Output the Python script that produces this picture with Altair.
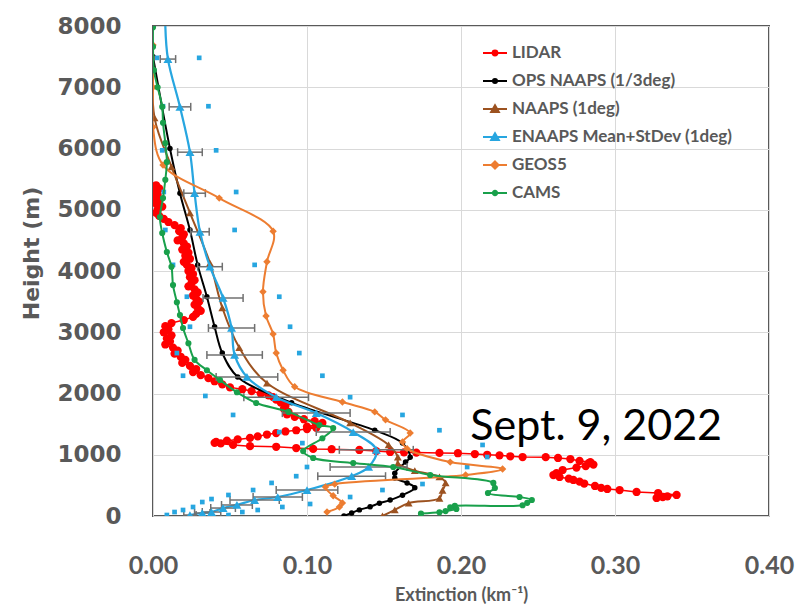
import altair as alt
import pandas as pd

# ---------------- data ----------------
lidar_h = [5400, 5350, 5300, 5250, 5200, 5150, 5100, 5050, 5000, 4950, 4900, 4850, 4800, 4750, 4700,
           4650, 4600, 4550, 4500, 4450, 4400, 4350, 4300, 4250, 4200, 4150, 4100, 4050, 4000, 3950,
           3900, 3850, 3800, 3750, 3700, 3650, 3600, 3550, 3500, 3450, 3400, 3350, 3300, 3250, 3200,
           3150, 3100, 3050, 3000, 2950, 2900, 2850, 2800, 2750, 2700, 2650, 2600, 2550, 2500, 2450,
           2400, 2350, 2300, 2250, 2200, 2150, 2100, 2070, 2040, 2000, 1970, 1940, 1900, 1850, 1800,
           1750, 1700, 1660, 1620, 1580, 1550, 1520, 1490, 1460, 1440, 1420, 1400, 1380, 1355, 1330,
           1300, 1275, 1250, 1230, 1210, 1195, 1185, 1160, 1140, 1130, 1110, 1095, 1090, 1078, 1060,
           1045, 1040, 1035, 1030, 1025, 1012, 1000, 990, 975, 963, 960, 947, 930, 898, 880,
           865, 840, 816, 790, 751, 700, 669, 637, 610, 588, 560, 530, 490, 460, 441,
           424, 392, 375, 343, 320, 310, 294]
lidar_x = [0.002, 0.004, 0.001, 0.003, 0.001, 0.004, 0.002, 0.006, 0.003, 0.002, 0.004, 0.007, 0.010, 0.014, 0.018,
           0.017, 0.020, 0.019, 0.016, 0.020, 0.022, 0.019, 0.023, 0.021, 0.024, 0.020, 0.022, 0.025, 0.023, 0.026,
           0.024, 0.027, 0.025, 0.023, 0.027, 0.029, 0.026, 0.028, 0.030, 0.027, 0.029, 0.031, 0.028, 0.026, 0.020,
           0.012, 0.008, 0.010, 0.007, 0.012, 0.009, 0.011, 0.008, 0.013, 0.016, 0.014, 0.018, 0.021, 0.019, 0.024,
           0.028, 0.026, 0.031, 0.036, 0.040, 0.045, 0.050, 0.058, 0.064, 0.070, 0.075, 0.078, 0.080, 0.083, 0.086,
           0.085, 0.088, 0.087, 0.092, 0.098, 0.105, 0.110, 0.106, 0.100, 0.106, 0.100, 0.093, 0.086, 0.080, 0.074,
           0.068, 0.063, 0.055, 0.048, 0.041, 0.040, 0.044, 0.052, 0.063, 0.080, 0.093, 0.104, 0.116, 0.134, 0.145,
           0.154, 0.163, 0.171, 0.186, 0.198, 0.209, 0.217, 0.225, 0.232, 0.240, 0.255, 0.263, 0.271, 0.277, 0.284,
           0.283, 0.286, 0.281, 0.275, 0.266, 0.262, 0.260, 0.264, 0.270, 0.273, 0.277, 0.280, 0.287, 0.291, 0.295,
           0.303, 0.314, 0.328, 0.340, 0.334, 0.331, 0.327]

ops_h = [7500, 6000, 5270, 4670, 4100, 3580, 3090, 2660, 2270, 1850, 1400, 1190, 960, 880, 700,
         620, 540, 460, 340, 260, 210, 150, 100, 50, 0]
ops_x = [0.000, 0.011, 0.0175, 0.024, 0.029, 0.035, 0.040, 0.045, 0.055, 0.090, 0.144, 0.162, 0.167, 0.164, 0.157,
         0.157, 0.165, 0.170, 0.162, 0.154, 0.147, 0.141, 0.134, 0.129, 0.124]

naaps_h = [7500, 6500, 5700, 4950, 4130, 3400, 2750, 2170, 1520, 1160, 960, 860, 740, 640, 540,
           420, 290, 210, 100, 0]
naaps_x = [0.000, 0.001, 0.012, 0.024, 0.037, 0.045, 0.056, 0.074, 0.128, 0.153, 0.159, 0.159, 0.170, 0.186, 0.190,
           0.188, 0.186, 0.166, 0.157, 0.149]

enaaps_h = [8000, 7460, 6680, 5940, 5270, 4640, 4070, 3560, 3070, 2630, 2270, 1940, 1680, 1370, 1080,
            800, 650, 424, 310, 261, 180, 130, 65, 49, 16]
enaaps_x = [0.008, 0.0097, 0.0175, 0.024, 0.027, 0.0305, 0.037, 0.0455, 0.051, 0.053, 0.061, 0.080, 0.106, 0.130, 0.145,
            0.140, 0.129, 0.100, 0.081, 0.066, 0.0545, 0.0455, 0.038, 0.032, 0.024]
enaaps_sd = [0.0, 0.005, 0.007, 0.008, 0.007, 0.006, 0.008, 0.013, 0.015, 0.018, 0.020, 0.021, 0.022, 0.024, 0.024,
             0.025, 0.022, 0.020, 0.016, 0.016, 0.010, 0.008, 0.006, 0.005, 0.004]

sq_lo_h = [7480, 6690, 5970, 5290, 4670, 4100, 3580, 3090, 2660, 2290, 1960, 1650, 1370, 1190, 950,
           800, 650, 540, 424, 343, 277, 228, 147, 98, 65, 16]
sq_lo_x = [0.0026, 0.0065, 0.006, 0.007, 0.008, 0.013, 0.022, 0.024, 0.0155, 0.0195, 0.034, 0.052, 0.082, 0.097, 0.104,
           0.100, 0.093, 0.077, 0.065, 0.049, 0.038, 0.032, 0.026, 0.0195, 0.014, 0.009]
sq_hi_h = [7480, 6690, 5970, 5290, 4670, 4100, 3580, 3090, 2660, 2290, 1940, 1650, 1400, 1160, 963,
           800, 522, 424, 310, 196, 147, 98, 65, 16]
sq_hi_x = [0.030, 0.036, 0.041, 0.054, 0.053, 0.066, 0.082, 0.089, 0.095, 0.110, 0.128, 0.162, 0.186, 0.214, 0.217,
           0.204, 0.175, 0.149, 0.128, 0.102, 0.084, 0.068, 0.058, 0.049]

geos_h = [7690, 7000, 6350, 5730, 5190, 4650, 4150, 3660, 3265, 2970, 2660, 2380, 2110, 1860, 1700,
          1570, 1355, 1210, 1100, 880, 767, 669, 520, 473, 330, 212, 147, 65]
geos_x = [0.000, 0.000, 0.000, 0.0065, 0.043, 0.078, 0.074, 0.0714, 0.0734, 0.078, 0.080, 0.0845, 0.092, 0.123, 0.144,
          0.151, 0.167, 0.162, 0.165, 0.193, 0.227, 0.203, 0.118, 0.112, 0.117, 0.123, 0.121, 0.113]

cams_h = [7980, 7660, 7280, 7000, 6680, 6420, 6090, 5780, 5490, 5190, 4880, 4620, 4310, 4070, 3770,
          3490, 3280, 3070, 2820, 2550, 2380, 2220, 2020, 1845, 1700, 1485, 1435, 1270, 1060, 947,
          865, 800, 670, 540, 457, 375, 310, 261, 215, 175, 165, 140, 114, 80, 60, 40]
cams_x = [0.000, 0.000, 0.0006, 0.003, 0.006, 0.0065, 0.008, 0.009, 0.008, 0.0065, 0.0045, 0.006, 0.009, 0.012, 0.013,
          0.0155, 0.0175, 0.0195, 0.023, 0.027, 0.035, 0.0435, 0.0545, 0.067, 0.088, 0.108, 0.117, 0.110, 0.0975, 0.104,
          0.130, 0.156, 0.180, 0.221, 0.222, 0.2175, 0.238, 0.246, 0.243, 0.240, 0.196, 0.193, 0.197, 0.190, 0.186, 0.174]

series_names = ["LIDAR", "OPS NAAPS (1/3deg)", "NAAPS (1deg)", "ENAAPS Mean+StDev (1deg)", "GEOS5", "CAMS"]
series_colors = ["#FF0000", "#000000", "#9C5220", "#27A6E0", "#ED7D31", "#19A04B"]

annot_text = ["Sept. 9, 2022"]
annot_x = [0.206]
annot_h = [1241]

x_ticks = [0.0, 0.1, 0.2, 0.3, 0.4]
y_ticks = [0, 1000, 2000, 3000, 4000, 5000, 6000, 7000, 8000]

# ---------------- helpers ----------------
def frame(h, x, **extra):
    d = {"h": h, "x": x, "i": list(range(len(h)))}
    d.update(extra)
    return pd.DataFrame(d)

GRAY = "#595959"
xaxis = alt.Axis(values=x_ticks, format=".2f", title="Extinction (km\u207b\u00b9)", grid=True,
                 gridColor="#D9D9D9", gridWidth=1, domain=False, ticks=False, labelFlush=False,
                 labelOverlap=False, labelFont="Lato", labelFontSize=25, labelFontWeight="bold",
                 labelColor=GRAY, labelPadding=37, titleFont="Lato", titleFontSize=18,
                 titleFontWeight="bold", titleColor=GRAY, titleY=84, titleBaseline="alphabetic")
yaxis = alt.Axis(values=y_ticks, format="d", title="Height (m)", grid=True, gridColor="#D9D9D9",
                 gridWidth=1, domain=False, ticks=False, labelOverlap=False, labelFont="DejaVu Sans",
                 labelFontSize=23, labelFontWeight="bold", labelColor=GRAY, labelPadding=32,
                 titleFont="DejaVu Sans", titleFontSize=22, titleFontWeight="bold", titleColor=GRAY,
                 titleAngle=270, titleX=-122, titleY=227, titleAlign="center", titleBaseline="middle")
xs = alt.Scale(domain=[0, 0.4], nice=False, zero=False)
ys = alt.Scale(domain=[0, 8000], nice=False, zero=False)


def X(field="x"):
    return alt.X(f"{field}:Q", scale=xs, axis=xaxis)


def Y():
    return alt.Y("h:Q", scale=ys, axis=yaxis)


def line_layer(df, color, width, interp):
    return alt.Chart(df).mark_line(color=color, strokeWidth=width, interpolate=interp, clip=True).encode(
        x=X(), y=Y(), order=alt.Order("i:Q"))


def point_layer(df, color, shape, size):
    return alt.Chart(df).mark_point(filled=True, color=color, shape=shape, size=size, opacity=1,
                                    strokeWidth=0, clip=True).encode(x=X(), y=Y())


lidar = frame(lidar_h, lidar_x)
ops = frame(ops_h, ops_x)
naaps = frame(naaps_h, naaps_x)
enaaps = frame(enaaps_h, enaaps_x, sd=enaaps_sd)
geos = frame(geos_h, geos_x)
cams = frame(cams_h, cams_x)
sq_lo = frame(sq_lo_h, sq_lo_x)
sq_hi = frame(sq_hi_h, sq_hi_x)

c = dict(zip(series_names, series_colors))

layers = []
# LIDAR
layers.append(line_layer(lidar, c["LIDAR"], 1.5, "linear"))
layers.append(point_layer(lidar, c["LIDAR"], "circle", 68))
# OPS NAAPS
layers.append(line_layer(ops, c["OPS NAAPS (1/3deg)"], 2, "catmull-rom"))
layers.append(point_layer(ops, c["OPS NAAPS (1/3deg)"], "circle", 30))
# NAAPS
layers.append(line_layer(naaps, c["NAAPS (1deg)"], 2, "catmull-rom"))
layers.append(point_layer(naaps, c["NAAPS (1deg)"], "triangle-up", 62))
# ENAAPS
blue = c["ENAAPS Mean+StDev (1deg)"]
layers.append(line_layer(enaaps, blue, 2.25, "catmull-rom"))
eb = alt.Chart(enaaps).transform_filter("datum.sd > 0").transform_calculate(
    lo="datum.x - datum.sd", hi="datum.x + datum.sd")
layers.append(eb.mark_rule(color="#707070", strokeWidth=1.5, clip=True).encode(
    x=X("lo"), x2="hi:Q", y=Y()))
layers.append(eb.mark_tick(color="#707070", orient="vertical", size=8, thickness=1.5, opacity=1,
                           clip=True).encode(x=X("lo"), y=Y()))
layers.append(eb.mark_tick(color="#707070", orient="vertical", size=8, thickness=1.5, opacity=1,
                           clip=True).encode(x=X("hi"), y=Y()))
layers.append(alt.Chart(enaaps).transform_filter("datum.sd > 0").mark_point(
    filled=True, color=blue, shape="triangle-up", size=80, opacity=1, strokeWidth=0, clip=True).encode(
    x=X(), y=Y()))
layers.append(point_layer(sq_lo, blue, "square", 22))
layers.append(point_layer(sq_hi, blue, "square", 22))
# GEOS5
layers.append(line_layer(geos, c["GEOS5"], 2, "catmull-rom"))
layers.append(point_layer(geos, c["GEOS5"], "diamond", 55))
# CAMS
layers.append(line_layer(cams, c["CAMS"], 2, "catmull-rom"))
layers.append(point_layer(cams, c["CAMS"], "circle", 38))

# annotation
annot = pd.DataFrame({"t": annot_text, "x": annot_x, "h": annot_h})
layers.append(alt.Chart(annot).mark_text(align="left", baseline="alphabetic", font="Lato", fontSize=43,
                                         color="#000000").encode(x=X(), y=Y(), text="t:N"))

# legend (hidden points, legend only)
paths = [
    "M-1,0L1,0M0.2,0A0.2,0.2,0,1,1,-0.2,0A0.2,0.2,0,1,1,0.2,0Z",
    "M-1,0L1,0M0.17,0A0.17,0.17,0,1,1,-0.17,0A0.17,0.17,0,1,1,0.17,0Z",
    "M-1,0L1,0M0,-0.32L0.32,0.24L-0.32,0.24Z",
    "M-1,0L1,0M0,-0.32L0.32,0.24L-0.32,0.24Z",
    "M-1,0L1,0M0,-0.3L0.3,0L0,0.3L-0.3,0Z",
    "M-1,0L1,0M0.18,0A0.18,0.18,0,1,1,-0.18,0A0.18,0.18,0,1,1,0.18,0Z",
]
leg = alt.Legend(title=None, orient="none", legendX=329, legendY=14, direction="vertical", padding=0,
                 symbolSize=576, symbolStrokeWidth=2, symbolOpacity=1, labelFont="Lato", labelFontSize=17,
                 labelFontWeight="bold", labelColor=GRAY, labelOffset=4, rowPadding=7, labelLimit=0)
leg_df = pd.DataFrame({"series": series_names, "x": [0.0] * 6, "h": [-4000] * 6})
cscale = alt.Scale(domain=series_names, range=series_colors)
layers.append(alt.Chart(leg_df).mark_point(filled=True, opacity=1, clip=True).encode(
    x=X(), y=Y(),
    fill=alt.Fill("series:N", scale=cscale, legend=leg, sort=series_names),
    stroke=alt.Stroke("series:N", scale=cscale, legend=leg, sort=series_names),
    shape=alt.Shape("series:N", scale=alt.Scale(domain=series_names, range=paths), legend=leg,
                    sort=series_names)))

chart = alt.layer(*layers).properties(
    width=616, height=490,
    autosize=alt.AutoSizeParams(type="none"),
    padding={"left": 153, "top": 26, "right": 38, "bottom": 90},
    background="white",
).configure_view(stroke="#595959", strokeWidth=2)

chart.save("out.html", embed_options={"renderer": "svg", "actions": False})
